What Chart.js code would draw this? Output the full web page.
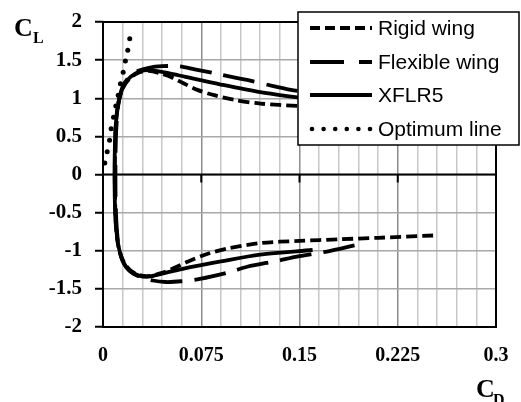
<!DOCTYPE html>
<html>
<head>
<meta charset="utf-8">
<script src="https://cdn.jsdelivr.net/npm/chart.js@4/dist/chart.umd.min.js"></script>
<style>
  body { margin: 0; background: #fff; }
  canvas { display: block; }
</style>
</head>
<body>
<canvas id="polar" width="521" height="402"></canvas>
<script>
// drag polar: CD on x, CL on y
const rigidCD = [0.252, 0.21, 0.18, 0.15, 0.12, 0.095, 0.08, 0.065, 0.055, 0.045, 0.036, 0.028, 0.021, 0.016, 0.0125, 0.0105, 0.0095, 0.009, 0.0095, 0.0105, 0.0125, 0.016, 0.021, 0.028, 0.035, 0.045, 0.053, 0.061, 0.072, 0.085, 0.10, 0.12, 0.149, 0.2, 0.25];
const rigidCL = [-0.80, -0.83, -0.85, -0.87, -0.90, -0.97, -1.04, -1.14, -1.22, -1.29, -1.33, -1.32, -1.26, -1.15, -1.0, -0.8, -0.5, 0, 0.5, 0.8, 1.0, 1.16, 1.27, 1.34, 1.36, 1.32, 1.27, 1.20, 1.11, 1.04, 0.98, 0.93, 0.90, 0.86, 0.82];

const flexCD = [0.192, 0.171, 0.147, 0.134, 0.11, 0.097, 0.074, 0.06, 0.048, 0.038, 0.028, 0.02, 0.015, 0.012, 0.0105, 0.0097, 0.0095, 0.0097, 0.0105, 0.012, 0.015, 0.02, 0.027, 0.035, 0.045, 0.058, 0.07, 0.09, 0.11, 0.13, 0.147, 0.19];
const flexCL = [-0.93, -1.01, -1.08, -1.13, -1.21, -1.28, -1.37, -1.40, -1.41, -1.39, -1.34, -1.26, -1.13, -0.95, -0.7, -0.4, 0, 0.4, 0.7, 0.95, 1.15, 1.28, 1.36, 1.40, 1.42, 1.42, 1.38, 1.31, 1.24, 1.16, 1.10, 1.0];

const xflrCD = [0.160, 0.12, 0.09, 0.06, 0.045, 0.035, 0.028, 0.021, 0.016, 0.013, 0.011, 0.0095, 0.009, 0.0088, 0.009, 0.0095, 0.011, 0.013, 0.016, 0.021, 0.028, 0.035, 0.05, 0.063, 0.09, 0.12, 0.149, 0.165];
const xflrCL = [-0.99, -1.05, -1.14, -1.24, -1.30, -1.34, -1.33, -1.27, -1.17, -1.03, -0.85, -0.6, -0.3, 0, 0.3, 0.6, 0.85, 1.03, 1.17, 1.28, 1.35, 1.37, 1.33, 1.28, 1.18, 1.08, 1.01, 0.98];

const optCD = [0.0014, 0.0032, 0.005, 0.0062, 0.008, 0.0098, 0.0116, 0.0133, 0.0154, 0.0171, 0.0189, 0.0204];
const optCL = [0.15, 0.30, 0.45, 0.60, 0.75, 0.90, 1.04, 1.19, 1.34, 1.49, 1.63, 1.78];

const xTickLabels = ['0', '0.075', '0.15', '0.225', '0.3'];
const yTickLabels = ['-2', '-1.5', '-1', '-0.5', '0', '0.5', '1', '1.5', '2'];

const toPts = (xs, ys) => xs.map((x, i) => ({ x: x, y: ys[i] }));

const serif = 'Liberation Serif, Times New Roman, serif';
const sans = 'Liberation Sans, Arial, sans-serif';

const framePlugin = {
  id: 'frame',
  beforeDatasetsDraw(chart) {
    const { ctx, chartArea: a, scales } = chart;
    const y0 = scales.y.getPixelForValue(0);
    ctx.save();
    ctx.strokeStyle = '#000';
    ctx.lineWidth = 2;
    ctx.beginPath();
    ctx.moveTo(a.left, y0);
    ctx.lineTo(a.right, y0);
    ctx.stroke();
    // tick marks on the zero line
    for (let i = 1; i < xTickLabels.length; i++) {
      const px = scales.x.getPixelForValue(i * 0.075);
      ctx.beginPath();
      ctx.moveTo(px, y0);
      ctx.lineTo(px, y0 + 8);
      ctx.stroke();
    }
    ctx.strokeRect(a.left, a.top, a.right - a.left, a.bottom - a.top);
    ctx.restore();
  },
  afterDraw(chart) {
    const ctx = chart.ctx;
    ctx.save();
    // legend box
    const lx = 298, ly = 12, lw = 221, lh = 133;
    ctx.fillStyle = '#fff';
    ctx.fillRect(lx, ly, lw, lh);
    ctx.strokeStyle = '#000';
    ctx.lineWidth = 1.5;
    ctx.strokeRect(lx, ly, lw, lh);
    const rows = [28, 62, 95, 129];
    chart.data.datasets.forEach((ds, i) => {
      const y = rows[i];
      ctx.save();
      ctx.strokeStyle = '#000';
      if (ds.showLine === false) {
        ctx.fillStyle = '#000';
        for (let k = 0; k < 6; k++) {
          ctx.beginPath();
          ctx.arc(312 + k * 11.6, y, 2.3, 0, Math.PI * 2);
          ctx.fill();
        }
      } else {
        ctx.lineWidth = ds.borderWidth;
        ctx.setLineDash(ds.legendDash || []);
        ctx.beginPath();
        ctx.moveTo(310, y);
        ctx.lineTo(372, y);
        ctx.stroke();
      }
      ctx.restore();
      ctx.fillStyle = '#000';
      ctx.font = '21px ' + sans;
      ctx.textBaseline = 'middle';
      ctx.textAlign = 'left';
      ctx.fillText(ds.label, 378, y + 1);
    });
    // axis titles
    ctx.fillStyle = '#000';
    ctx.textBaseline = 'alphabetic';
    ctx.font = 'bold 26px ' + serif;
    ctx.fillText('C', 14, 36);
    ctx.font = 'bold 16px ' + serif;
    ctx.fillText('L', 33, 43);
    ctx.font = 'bold 26px ' + serif;
    ctx.fillText('C', 476, 397);
    ctx.font = 'bold 16px ' + serif;
    ctx.fillText('D', 493, 405);
    ctx.restore();
  }
};

const lineSet = (label, xs, ys, dash, legendDash) => ({
  label: label,
  data: toPts(xs, ys),
  showLine: true,
  borderColor: '#000',
  borderWidth: 3.8,
  borderDash: dash,
  legendDash: legendDash,
  pointRadius: 0,
  tension: 0.3,
  fill: false
});

new Chart(document.getElementById('polar'), {
  type: 'scatter',
  data: {
    datasets: [
      lineSet('Rigid wing', rigidCD, rigidCL, [11, 5], [10, 5]),
      lineSet('Flexible wing', flexCD, flexCL, [32, 12], [34, 15]),
      lineSet('XFLR5', xflrCD, xflrCL, [], []),
      {
        label: 'Optimum line',
        data: toPts(optCD, optCL),
        showLine: false,
        pointRadius: 2.5,
        pointBackgroundColor: '#000',
        pointBorderWidth: 0
      }
    ]
  },
  options: {
    responsive: false,
    animation: false,
    layout: { padding: { left: 0, top: 22, right: 25, bottom: 0 } },
    plugins: { legend: { display: false }, tooltip: { enabled: false } },
    scales: {
      x: {
        type: 'linear',
        min: 0,
        max: 0.3,
        afterFit: (s) => { s.height = 75; s.paddingLeft = 0; s.paddingRight = 0; },
        border: { display: false },
        grid: {
          drawTicks: false,
          color: (c) => {
            const r = c.tick.value / 0.075;
            return Math.abs(r - Math.round(r)) < 1e-6 ? '#8c8c8c' : '#c8c8c8';
          },
          lineWidth: 1.5
        },
        ticks: {
          stepSize: 0.015,
          autoSkip: false,
          maxRotation: 0,
          padding: 17,
          color: '#000',
          font: { family: serif, weight: 'bold', size: 20 },
          callback: (v) => {
            const r = v / 0.075;
            return Math.abs(r - Math.round(r)) < 1e-6 ? xTickLabels[Math.round(r)] : '';
          }
        }
      },
      y: {
        type: 'linear',
        min: -2,
        max: 2,
        afterFit: (s) => { s.width = 103; s.paddingTop = 0; s.paddingBottom = 0; },
        border: { display: false },
        grid: {
          color: '#a8a8a8',
          lineWidth: 1.5,
          tickLength: 8,
          tickColor: '#000',
          tickWidth: 2
        },
        ticks: {
          stepSize: 0.5,
          padding: 13,
          color: '#000',
          font: { family: serif, weight: 'bold', size: 21 },
          callback: (v) => yTickLabels[Math.round((v + 2) / 0.5)]
        }
      }
    }
  },
  plugins: [framePlugin]
});
</script>
</body>
</html>
